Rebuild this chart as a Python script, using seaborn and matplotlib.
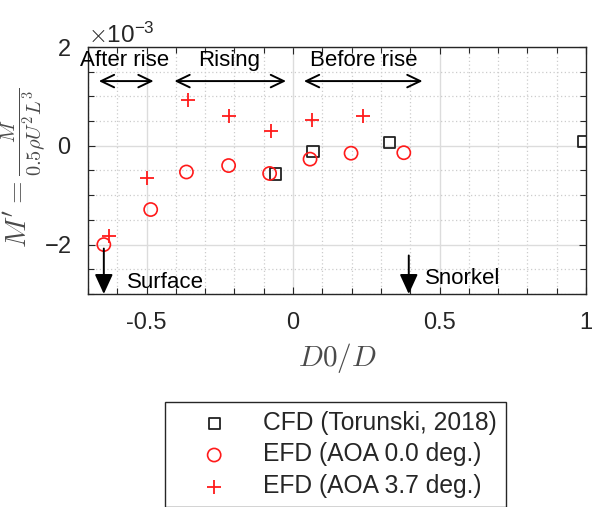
import matplotlib
matplotlib.use("Agg")
import matplotlib.pyplot as plt
from matplotlib.ticker import MultipleLocator, ScalarFormatter
import seaborn as sns
import pandas as pd

# ---- data ----
cfd_x = [-0.06, 0.068, 0.33, 0.99]
cfd_y = [-0.57e-3, -0.12e-3, 0.06e-3, 0.08e-3]

efd0_x = [-0.646, -0.486, -0.364, -0.22, -0.08, 0.058, 0.198, 0.378]
efd0_y = [-2.0e-3, -1.29e-3, -0.53e-3, -0.40e-3, -0.56e-3, -0.27e-3, -0.15e-3, -0.14e-3]

efd37_x = [-0.63, -0.50, -0.36, -0.22, -0.075, 0.064, 0.24]
efd37_y = [-1.82e-3, -0.66e-3, 0.92e-3, 0.60e-3, 0.29e-3, 0.53e-3, 0.61e-3]

labels = ["CFD (Torunski, 2018)", "EFD (AOA 0.0 deg.)", "EFD (AOA 3.7 deg.)"]
phase_labels = ["After rise", "Rising", "Before rise"]
phase_text_x = [-0.575, -0.219, 0.24]
phase_arrow_x0 = [-0.663, -0.405, 0.037]
phase_arrow_x1 = [-0.476, -0.024, 0.442]
marker_labels = ["Surface", "Snorkel"]
marker_x = [-0.646, 0.395]

sns.set_theme(style="ticks")
plt.rcParams["font.family"] = ["Liberation Sans", "DejaVu Sans"]
plt.rcParams["mathtext.fontset"] = "cm"
plt.rcParams["axes.unicode_minus"] = False

fig = plt.figure(figsize=(5.93, 5.07), dpi=100)
ax = fig.add_axes([88/593, 1-294/507, 498/593, 247/507])

df_cfd = pd.DataFrame({"x": cfd_x, "y": cfd_y})
df_0 = pd.DataFrame({"x": efd0_x, "y": efd0_y})
df_37 = pd.DataFrame({"x": efd37_x, "y": efd37_y})

sns.scatterplot(data=df_cfd, x="x", y="y", ax=ax, marker="s", s=64,
                facecolor="none", edgecolor="#222222", linewidth=1.3,
                label=labels[0], zorder=5)
sns.scatterplot(data=df_0, x="x", y="y", ax=ax, marker="o", s=90,
                facecolor="none", edgecolor="#ff1a1a", linewidth=1.2,
                label=labels[1], zorder=5)
sns.scatterplot(data=df_37, x="x", y="y", ax=ax, marker="+", s=95,
                color="#ff1a1a", linewidth=1.3,
                label=labels[2], zorder=5)

ax.set_xlim(-0.7, 1.0)
ax.set_ylim(-3e-3, 2e-3)
ax.xaxis.set_major_locator(MultipleLocator(0.5))
ax.xaxis.set_minor_locator(MultipleLocator(0.1))
ax.yaxis.set_major_locator(MultipleLocator(2e-3))
ax.yaxis.set_minor_locator(MultipleLocator(0.5e-3))
fmt = ScalarFormatter(useMathText=True)
fmt.set_powerlimits((-2, 2))
ax.yaxis.set_major_formatter(fmt)
ax.xaxis.set_major_formatter(plt.FuncFormatter(lambda v, p: f"{v:g}"))

ax.grid(which="major", color="#dcdcdc", linewidth=1.0, linestyle="-")
ax.grid(which="minor", color="#cccccc", linewidth=0.9, linestyle=(0, (1, 2)))
ax.set_axisbelow(True)

ax.tick_params(which="both", direction="in", top=True, right=True,
               colors="#262626", labelsize=17)
ax.tick_params(which="major", length=5, width=0.8)
ax.tick_params(which="minor", length=4, width=0.8)
ax.tick_params(axis="x", pad=13)
ax.tick_params(axis="y", pad=12)
for sp in ax.spines.values():
    sp.set_color("#262626")
    sp.set_linewidth(1.0)
ax.yaxis.get_offset_text().set_fontsize(17.5)

ax.set_xlabel(r"$D0/D$", fontsize=21, color="#4a4a4a", labelpad=5)
ax.set_ylabel(r"$M' = \frac{M}{0.5\rho U^2 L^3}$", fontsize=21, color="#4a4a4a")
ax.yaxis.set_label_coords(-0.08, 0.51)

# phase annotations
for lab, tx, x0, x1 in zip(phase_labels, phase_text_x, phase_arrow_x0, phase_arrow_x1):
    ax.text(tx, 1.61e-3, lab, ha="center", va="baseline", fontsize=16, color="black",
            clip_on=False)
    ax.annotate("", xy=(x1, 1.31e-3), xytext=(x0, 1.31e-3),
                arrowprops=dict(arrowstyle="<->,head_length=0.94,head_width=0.45",
                                mutation_scale=10, color="black", lw=1.4,
                                shrinkA=0, shrinkB=0))

# surface / snorkel arrows
arrow_start = [-2.08e-3, -2.22e-3]
text_base = [-2.88e-3, -2.80e-3]
text_dx = [0.08, 0.054]
for lab, mx, ys, tb, dx in zip(marker_labels, marker_x, arrow_start, text_base, text_dx):
    ax.annotate("", xy=(mx, -3e-3), xytext=(mx, ys),
                arrowprops=dict(arrowstyle="-|>,head_length=1.2,head_width=0.55",
                                mutation_scale=10, color="black", lw=1.4,
                                shrinkA=0, shrinkB=0), zorder=6)
    ax.text(mx + dx, tb, lab, ha="left", va="baseline", fontsize=16, color="black")

leg = ax.legend(loc="upper left", bbox_to_anchor=(165/593, 1-402/507),
                bbox_transform=fig.transFigure, fontsize=17.7, frameon=True,
                fancybox=False, edgecolor="#262626", framealpha=1,
                handlelength=3.3, handletextpad=0.35, borderpad=0.35,
                borderaxespad=0, labelspacing=0.32, scatterpoints=1)
leg.get_frame().set_linewidth(1.0)

fig.savefig("out.png", dpi=100)
